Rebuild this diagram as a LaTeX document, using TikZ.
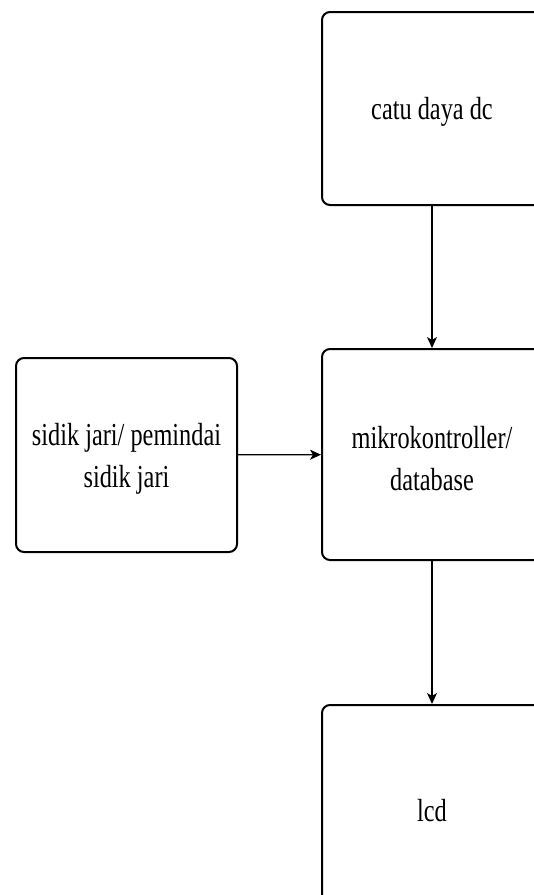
\documentclass[tikz,border=0pt]{standalone}
\usepackage{fontspec}
\setmainfont[FakeStretch=0.76]{Liberation Serif}
\usetikzlibrary{arrows.meta}
\begin{document}
\begin{tikzpicture}[x=1pt,y=-1pt,
  blk/.style={draw=black,line width=2pt,rounded corners=8pt,minimum width=220pt,inner sep=0pt},
  txt/.style={inner sep=0pt,align=center,font=\fontsize{32}{42}\selectfont},
  conn/.style={draw=black,line width=1.3pt,-{Stealth[length=11pt,width=10pt,inset=3pt]}}]
\useasboundingbox (0,0) rectangle (534,895);
\node[blk,minimum height=193pt] (dc) at (432,108.5) {};
\node[blk,minimum height=211pt] (mc) at (432,454.5) {};
\node[blk,minimum width=221pt,minimum height=194pt] (fp) at (126.5,455) {};
\node[blk,minimum height=206pt] (lcd) at (432,808) {};
\node[txt] (dct) at (432,112) {catu daya dc};
\node[txt] (mct) at (432,459) {mikrokontroller/\\database};
\node[txt] (fpt) at (126.5,459) {sidik jari/ pemindai\\sidik jari};
\node[txt] (lcdt) at (432,811) {lcd};
\draw[conn] (dc) -- (mc);
\draw[conn] (fp) -- (mc);
\draw[conn] (mc) -- (lcd);
\end{tikzpicture}
\end{document}
